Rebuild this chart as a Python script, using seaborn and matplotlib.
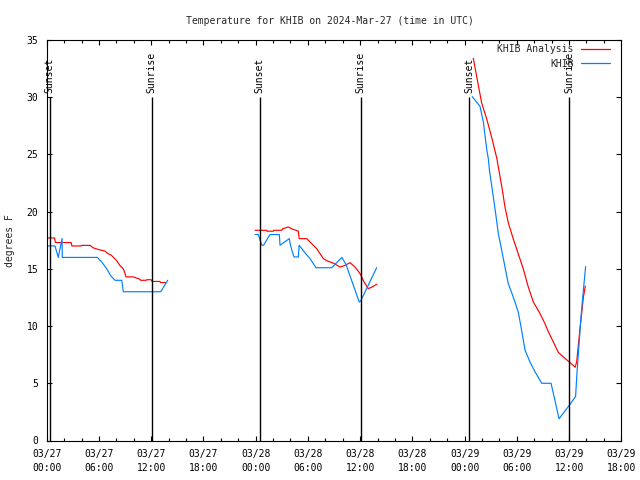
import numpy as np
import pandas as pd
import matplotlib
matplotlib.use('Agg')
import matplotlib.pyplot as plt
import matplotlib.dates as mdates
from matplotlib.ticker import MultipleLocator
import seaborn as sns

# ---------------- data ----------------
START = pd.Timestamp('2024-03-27 00:00')
END_HOURS = 66

# KHIB Analysis (hours since 03/27 00:00 UTC, degrees F)
analysis_hours_1 = [0.0, 0.9, 1.0, 2.8, 2.9, 3.9, 4.0, 5.0, 5.3, 5.9, 6.7, 7.0, 7.4, 8.0, 8.4,
                    8.8, 9.0, 9.1, 9.9, 10.7, 10.8, 11.4, 11.5, 12.0, 12.1, 13.0, 13.1, 13.7]
analysis_temps_1 = [17.7, 17.7, 17.3, 17.3, 17.0, 17.0, 17.05, 17.05, 16.85, 16.7, 16.55, 16.35, 16.2, 15.75, 15.3,
                    15.0, 14.6, 14.3, 14.3, 14.1, 14.0, 14.0, 14.05, 14.05, 13.9, 13.9, 13.8, 13.8]
analysis_hours_2 = [23.93, 25.27, 25.3, 26.03, 26.1, 27.0, 27.1, 27.75, 28.14, 28.9, 29.0, 29.87, 30.44,
                    31.01, 31.39, 31.77, 32.23, 32.92, 33.69, 34.26, 34.84, 35.41, 35.99, 36.45, 36.94, 37.33, 37.9]
analysis_temps_2 = [18.37, 18.37, 18.29, 18.29, 18.37, 18.37, 18.5, 18.66, 18.5, 18.3, 17.64, 17.64, 17.2,
                    16.77, 16.33, 15.9, 15.69, 15.5, 15.16, 15.3, 15.54, 15.16, 14.58, 13.85, 13.27, 13.4, 13.65]
analysis_hours_3 = [49.0, 49.96, 50.54, 51.11, 51.69, 52.27, 52.64, 53.03, 53.6, 54.17, 54.74, 55.32, 55.9,
                    56.66, 57.24, 57.62, 58.2, 58.77, 59.35, 60.12, 60.7, 60.88, 61.26, 61.64, 61.87]
analysis_temps_3 = [33.4, 29.5, 28.1, 26.5, 24.7, 22.2, 20.4, 19.0, 17.6, 16.3, 15.0, 13.4, 12.1,
                    11.1, 10.2, 9.5, 8.6, 7.7, 7.3, 6.8, 6.4, 6.9, 9.8, 12.5, 13.5]

# KHIB observations
obs_hours_1 = [0.0, 0.95, 1.33, 1.76, 1.79, 5.81, 6.32, 6.9, 7.35, 7.85, 8.62, 8.8, 13.1, 13.9]
obs_temps_1 = [17.0, 17.0, 16.0, 17.65, 16.0, 16.0, 15.6, 15.0, 14.4, 14.0, 14.0, 13.0, 13.0, 14.0]
obs_hours_2 = [23.93, 24.31, 24.7, 24.9, 25.65, 26.72, 26.8, 27.87, 28.0, 28.4, 28.9, 29.0, 29.67,
               30.24, 30.93, 32.74, 33.9, 34.37, 35.9, 36.07, 37.9]
obs_temps_2 = [18.0, 18.0, 17.06, 17.06, 18.0, 18.0, 17.06, 17.64, 17.06, 16.04, 16.04, 17.06, 16.4,
               15.9, 15.1, 15.1, 16.0, 15.4, 12.1, 12.2, 15.1]
obs_hours_3 = [48.88, 49.77, 50.15, 50.55, 50.73, 50.86, 51.24, 51.63, 51.87, 52.27, 52.64, 53.02, 53.32,
               53.7, 54.17, 54.56, 54.94, 55.52, 56.09, 56.86, 57.93, 58.2, 58.85, 60.1, 60.75, 60.9,
               61.37, 61.64, 61.9]
obs_temps_3 = [30.05, 29.2, 27.85, 25.4, 24.6, 23.6, 21.6, 19.5, 18.1, 16.6, 15.16, 13.7, 13.1,
               12.3, 11.2, 9.6, 7.9, 6.85, 6.0, 5.0, 5.0, 4.1, 1.9, 3.15, 3.85, 5.8,
               10.8, 13.1, 15.2]

series_names = ['KHIB Analysis', 'KHIB']
series_colors = ['#ff0000', '#0080ff']

sun_hours = [0.35, 12.08, 24.45, 36.05, 48.55, 60.0]
sun_labels = ['Sunset', 'Sunrise', 'Sunset', 'Sunrise', 'Sunset', 'Sunrise']
sun_line_top = 30

title_text = 'Temperature for KHIB on 2024-Mar-27 (time in UTC)'
ylabel_text = 'degrees F'

# ---------------- build table ----------------
segments = [
    ('KHIB Analysis', analysis_hours_1, analysis_temps_1),
    ('KHIB Analysis', analysis_hours_2, analysis_temps_2),
    ('KHIB Analysis', analysis_hours_3, analysis_temps_3),
    ('KHIB', obs_hours_1, obs_temps_1),
    ('KHIB', obs_hours_2, obs_temps_2),
    ('KHIB', obs_hours_3, obs_temps_3),
]
frames = []
for i, (name, hrs, temps) in enumerate(segments):
    frames.append(pd.DataFrame({
        'time': START + pd.to_timedelta(np.array(hrs), unit='h'),
        'temp': temps,
        'series': name,
        'seg': i,
    }))
df = pd.concat(frames, ignore_index=True)

# ---------------- style ----------------
sns.set_style('ticks')
plt.rcParams['font.family'] = ['DejaVu Sans Mono']
plt.rcParams['font.size'] = 7

fig = plt.figure(figsize=(6.4, 4.8), dpi=100)
ax = fig.add_axes([46.7 / 640, 1 - 440.5 / 480, 574.6 / 640, 400.5 / 480])

sns.lineplot(data=df, x='time', y='temp', hue='series', units='seg', estimator=None,
             palette=dict(zip(series_names, series_colors)), hue_order=series_names,
             linewidth=0.85, ax=ax, sort=False)

ax.set_xlim(START, START + pd.Timedelta(hours=END_HOURS))
ax.set_ylim(0, 35)

sun_times = [START + pd.Timedelta(hours=h) for h in sun_hours]
ax.vlines(sun_times, 0, sun_line_top, color='black', linewidth=1.0)
for t, lab in zip(sun_times, sun_labels):
    ax.text(t, sun_line_top + 0.35, lab, rotation=90, ha='center', va='bottom',
            fontsize=7, color='black')

ax.xaxis.set_major_locator(mdates.HourLocator(byhour=[0, 6, 12, 18]))
ax.xaxis.set_minor_locator(mdates.HourLocator(byhour=list(range(0, 24, 2))))
ax.xaxis.set_major_formatter(mdates.DateFormatter('%m/%d\n%H:%M'))
ax.yaxis.set_major_locator(MultipleLocator(5))

ax.tick_params(which='both', direction='in', top=True, right=True, color='black', width=0.8,
               labelsize=7, labelcolor='black')
ax.tick_params(which='major', length=3.5)
ax.tick_params(which='minor', length=2)
ax.tick_params(axis='y', pad=6)
ax.tick_params(axis='x', pad=6)
for lbl in ax.get_xticklabels():
    lbl.set_linespacing(1.5)

for sp in ax.spines.values():
    sp.set_color('black')
    sp.set_linewidth(0.8)
    sp.set_visible(True)

ax.set_xlabel('')
ax.set_ylabel(ylabel_text, fontsize=7)
ax.yaxis.set_label_coords(-0.056, 0.5)

fig.text(330 / 640, 1 - 20.5 / 480, title_text, ha='center', va='center', fontsize=7)

handles, labels = ax.get_legend_handles_labels()
leg = ax.legend(handles, labels, loc='upper right', bbox_to_anchor=(0.981, 0.99),
                frameon=False, markerfirst=False, handlelength=3.0, handletextpad=0.8,
                labelspacing=0.5, borderaxespad=0, borderpad=0, fontsize=7)
for h in leg.legend_handles:
    h.set_linewidth(0.9)

fig.savefig('out.png', dpi=100)
